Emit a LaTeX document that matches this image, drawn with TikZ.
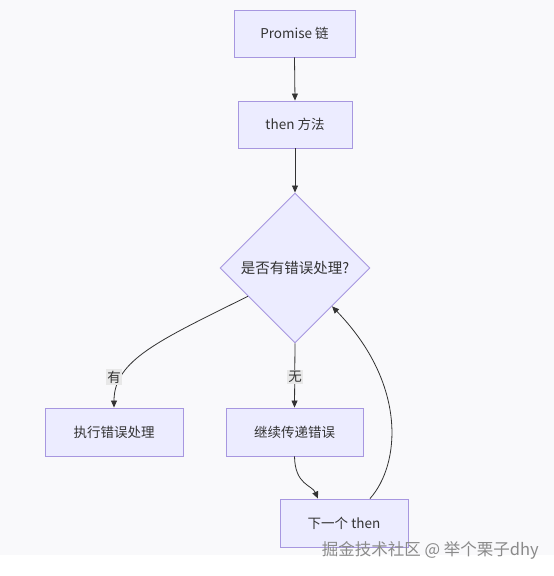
\documentclass[tikz,border=0pt]{standalone}
\usepackage{fontspec}
\setmainfont{Noto Sans CJK SC}
\usetikzlibrary{shapes.geometric,arrows.meta}
\definecolor{nodefill}{HTML}{ECECFF}
\definecolor{nodeborder}{HTML}{A797E0}
\definecolor{txt}{HTML}{333333}
\definecolor{bg}{HTML}{F9F9FB}
\definecolor{lblbg}{HTML}{E8E8E8}
\definecolor{wm}{HTML}{8A8A8A}
\tikzset{
  box/.style={draw=nodeborder, fill=nodefill, line width=0.9pt, text=txt,
    font=\fontsize{13.5}{15}\selectfont, inner sep=0pt},
  dia/.style={draw=nodeborder, fill=nodefill, line width=0.9pt, shape=diamond,
    minimum width=150pt, minimum height=150pt, inner sep=0pt},
  edge/.style={draw=txt, line width=0.8pt, -{Triangle[length=7pt,width=6pt]}},
  lbl/.style={fill=lblbg, text=txt, font=\fontsize{13.5}{15}\selectfont, inner sep=1.5pt}
}
\begin{document}
\begin{tikzpicture}[x=1pt,y=-1pt]
\fill[white] (0,0) rectangle (554,576);
\fill[bg] (0,0) rectangle (554,555);
\useasboundingbox (0,0) rectangle (554,576);

\node[box, minimum width=121pt, minimum height=47pt] (p) at (294.5,33.5) {Promise 链};
\node[box, minimum width=114pt, minimum height=47pt] (t) at (295,124.5) {then 方法};
\node[dia, label={[text=txt,font=\fontsize{14.5}{16}\selectfont]center:是否有错误处理?}] (d) at (295,268) {};
\node[box, minimum width=138pt, minimum height=48pt] (e) at (114,432) {执行错误处理};
\node[box, minimum width=137pt, minimum height=48pt] (c) at (294.5,432) {继续传递错误};
\node[box, minimum width=128pt, minimum height=48pt] (n) at (344,523) {下一个 then};

\draw[edge] (p.south) -- (t.north);
\draw[edge] (t.south) -- (d.north);
\draw[edge] (d.211) .. controls (160,340) and (114,360) .. (e.north);
\draw[edge] (d.south) -- (c.north);
\draw[edge] (c.south) .. controls (295,485) and (312,485) .. ([xshift=-26pt]n.north);
\draw[edge] ([xshift=26pt]n.north) .. controls (400,465) and (408,385) .. (d.314);

\node[lbl] (l1) at (114,377) {有};
\node[lbl] (l2) at (295,377) {无};

\node[text=wm, font=\fontsize{16.5}{18}\selectfont, inner sep=0pt, anchor=east] (w) at (539,550) {掘金技术社区 @ 举个栗子dhy};
\end{tikzpicture}
\end{document}
